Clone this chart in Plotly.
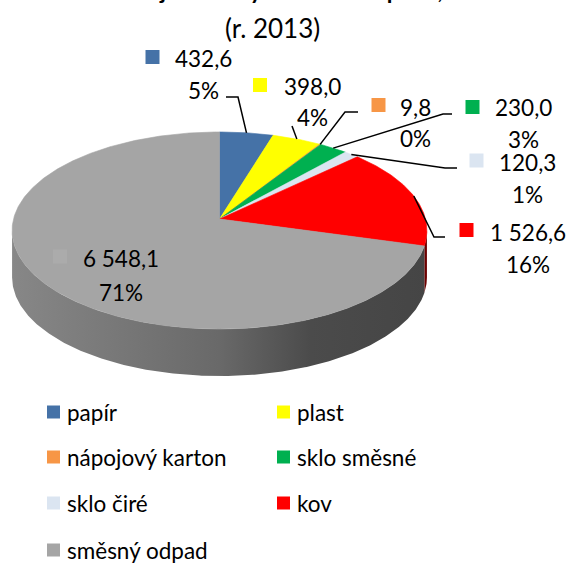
import numpy as np
import plotly.graph_objects as go

# ---------------- data ----------------
categories = ["papír", "plast", "nápojový karton", "sklo směsné", "sklo čiré", "kov", "směsný odpad"]
values = [432.6, 398.0, 9.8, 230.0, 120.3, 1526.6, 6548.1]
pct_labels = ["5%", "4%", "0%", "3%", "1%", "16%", "71%"]
colors = ["#4572A7", "#FFFF00", "#F79646", "#00B050", "#DBE5F1", "#FF0000", "#A5A5A5"]
title_line1 = "Množství jednotlivých složek odpadu, t/r"
title_line2 = "(r. 2013)"

# ---------------- geometry (pixel space) ----------------
W, H = 572, 563
CX, CY = 219.5, 219.0
A, B, K = 206.0, 97.2, 0.1168
DEPTH = 47
FONT = "Lato"


def rim(theta_deg):
    t = np.radians(theta_deg)
    X, Z = np.sin(t), np.cos(t)
    d = 1 + K * Z
    return CX + A * X / d, CY - B * Z / d


def hex2rgb(h):
    h = h.lstrip("#")
    return tuple(int(h[i:i + 2], 16) for i in (0, 2, 4))


def shade(h, f):
    r, g, b = hex2rgb(h)
    return "rgb(%d,%d,%d)" % (r * f, g * f, b * f)


total = float(sum(values))
cum = np.concatenate([[0], np.cumsum(values)]) / total * 360.0
starts, ends = cum[:-1], cum[1:]
mids = (starts + ends) / 2

fig = go.Figure()

# ---- side wall (front visible part) ----
th_a = np.degrees(np.arccos(-K))
th_b = 360 - th_a
x_left, _ = rim(th_b)
x_right, _ = rim(th_a)
for s, e, c in zip(starts, ends, colors):
    s2, e2 = max(s, th_a), min(e, th_b)
    if e2 <= s2:
        continue
    th = np.linspace(s2, e2, max(int((e2 - s2) * 2), 2))
    xt, yt = rim(th)
    xs = np.concatenate([xt, xt[::-1]])
    ys = np.concatenate([yt, (yt + DEPTH)[::-1]])
    fig.add_trace(go.Scatter(
        x=xs, y=ys, mode="lines", fill="toself", line=dict(width=0),
        fillgradient=dict(type="horizontal", start=x_left, stop=x_right,
                          colorscale=[[0, shade(c, 0.82)], [0.5, shade(c, 0.64)],
                                      [0.72, shade(c, 0.46)], [1, shade(c, 0.42)]]),
        hoverinfo="skip", showlegend=False))

# ---- top face slices ----
for s, e, c in zip(starts, ends, colors):
    th = np.linspace(s, e, max(int((e - s) * 2), 2))
    xt, yt = rim(th)
    xs = np.concatenate([[CX], xt, [CX]])
    ys = np.concatenate([[CY], yt, [CY]])
    fig.add_trace(go.Scatter(
        x=xs, y=ys, mode="lines", fill="toself", fillcolor=c,
        line=dict(width=0.6, color=c), hoverinfo="skip", showlegend=False))

# ---- data labels ----
label_pos = [
    dict(cx=203, vy=58, py=90, kx=152.5, ky=57, lead=[(226, 97), (238, 97)]),
    dict(cx=312, vy=86, py=117, kx=260, ky=85, lead=[(292, 126)]),
    dict(cx=415.5, vy=107, py=138, kx=378.5, ky=105, lead=[(358, 112), (345, 112)]),
    dict(cx=523, vy=107, py=139, kx=472.5, ky=107, lead=[(452, 114), (443, 114)]),
    dict(cx=527, vy=162, py=194, kx=476.5, ky=160.5, lead=[(457, 168), (445, 168)]),
    dict(cx=527.5, vy=232, py=264, kx=466.5, ky=230, lead=[(445, 237), (434, 237)]),
    dict(cx=121, vy=258, py=292, kx=60, ky=256.5, lead=None),
]

annotations = []
for i, (v, p, c, lp) in enumerate(zip(values, pct_labels, colors, label_pos)):
    vtxt = "{:,.1f}".format(v).replace(",", " ").replace(".", ",")
    if lp["lead"]:
        rx, ry = rim(mids[i])
        lx = [pt[0] for pt in lp["lead"]] + [rx]
        ly = [pt[1] for pt in lp["lead"]] + [ry]
        fig.add_trace(go.Scatter(x=lx, y=ly, mode="lines",
                                 line=dict(color="black", width=1.5),
                                 hoverinfo="skip", showlegend=False))
    kc = c if i != 6 else "#ABABAB"
    fig.add_trace(go.Scatter(x=[lp["kx"]], y=[lp["ky"]], mode="markers",
                             marker=dict(symbol="square", size=14, color=kc,
                                         line=dict(width=0)),
                             hoverinfo="skip", showlegend=False))
    annotations.append(dict(x=lp["cx"], y=lp["vy"], text=vtxt, showarrow=False,
                            xanchor="center", yanchor="middle",
                            font=dict(family=FONT, size=22.5, color="black")))
    annotations.append(dict(x=lp["cx"], y=lp["py"], text=p, showarrow=False,
                            xanchor="center", yanchor="middle",
                            font=dict(family=FONT, size=22.5, color="black")))

# ---- legend (manual, 2 columns) ----
leg_cols_x = [53.5, 283.5]
leg_rows_y = [412, 457, 503, 550]
for i, (cat, c) in enumerate(zip(categories, colors)):
    col, row = i % 2, i // 2
    mx, my = leg_cols_x[col], leg_rows_y[row]
    fig.add_trace(go.Scatter(x=[mx], y=[my], mode="markers",
                             marker=dict(symbol="square", size=13, color=c, line=dict(width=0)),
                             hoverinfo="skip", showlegend=False))
    annotations.append(dict(x=mx + 11, y=my, text=cat, showarrow=False,
                            xanchor="left", yanchor="middle",
                            font=dict(family=FONT, size=22.5, color="black")))

# ---- title (first line mostly above the visible area, as in the reference) ----
annotations.append(dict(x=268 / W, xref="paper", y=1 + 10 / H, yref="paper",
                        text="<b>" + title_line1 + "</b>", showarrow=False,
                        xanchor="center", yanchor="middle",
                        font=dict(family=FONT, size=23, color="black")))
annotations.append(dict(x=272, y=28, text=title_line2, showarrow=False,
                        xanchor="center", yanchor="middle",
                        font=dict(family=FONT, size=26, color="black")))

fig.update_layout(
    width=W, height=H, margin=dict(l=0, r=0, t=0, b=0),
    paper_bgcolor="white", plot_bgcolor="white",
    xaxis=dict(range=[0, W], visible=False, fixedrange=True),
    yaxis=dict(range=[H, 0], visible=False, fixedrange=True),
    showlegend=False, annotations=annotations,
)

fig.write_html("out.html", config={"displayModeBar": False},
               post_script="document.body.style.margin='0';document.body.style.padding='0';")
